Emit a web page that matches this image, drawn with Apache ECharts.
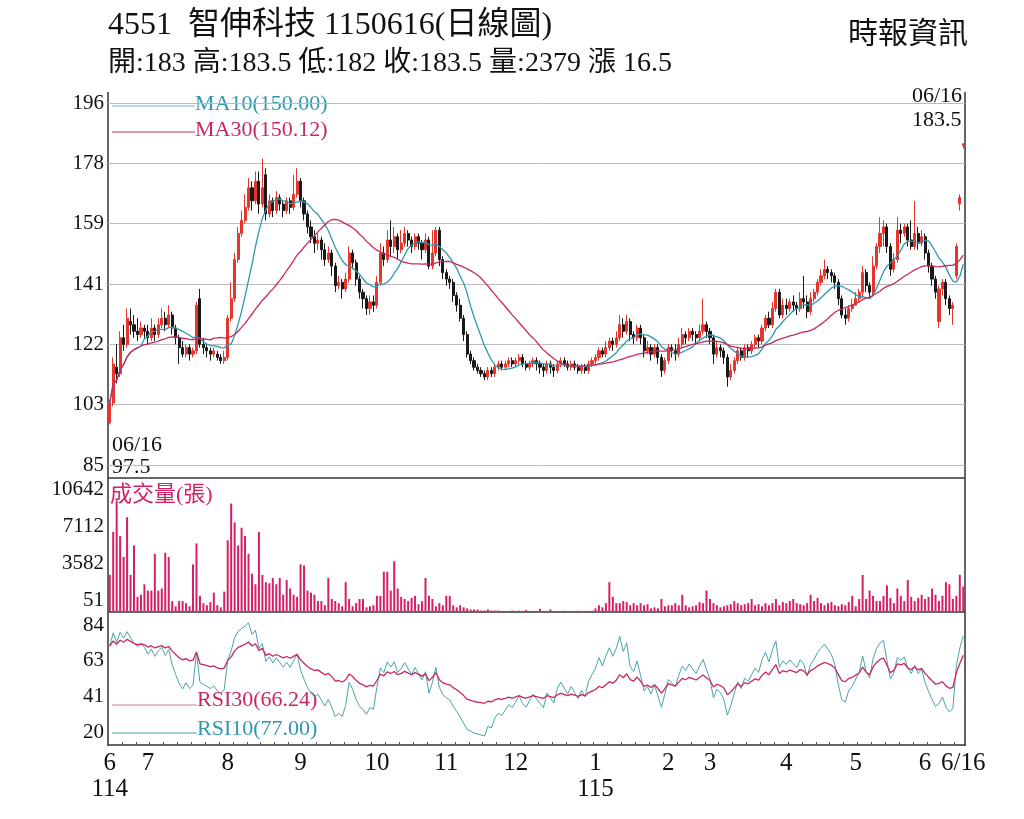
<!DOCTYPE html>
<html>
<head>
<meta charset="utf-8">
<script src="https://cdn.jsdelivr.net/npm/echarts@6/dist/echarts.min.js"></script>
<style>
  html, body { margin: 0; padding: 0; background: #fff; }
  #chart { width: 1024px; height: 819px; }
</style>
</head>
<body>
<div id="chart"></div>
<script>
// 月份與各月交易日數
const monthLabels = ['6\n114', '7', '8', '9', '10', '11', '12', '1\n115', '2', '3', '4', '5', '6'];
const monthDays = [11, 23, 21, 22, 20, 20, 23, 21, 12, 22, 20, 20, 12];
const lastLabel = '6/16';
const priceTicks = ['85', '103', '122', '141', '159', '178', '196'];
const volTicks = ['51', '3582', '7112', '10642'];
const rsiTicks = ['20', '41', '63', '84'];

// [開, 收, 低, 高]
const ohlc = [
  [98,104,97.5,105],[104,116,103,118],[115,113,110,122],[113,124,112,126],[124,122,120,128],[122,130,121,133],[129,128,125,133],[128,126,124,131],[126,125,123,130],[125,127,124,129],[127,126,124,128],
  [126,124,122,128],[124,127,123,130],[127,125,123,128],[125,128,124,130],[128,130,127,133],[130,128,126,132],[128,131,127,134],[131,127,125,132],[127,124,122,128],[124,121,116,125],[121,119,118,123],[119,121,118,122],[121,119,117,122],[119,120,118,121],[120,134,119,135],[136,122,121,139],[122,121,119,124],[121,120,118,122],[120,119,117,121],[119,120,118,121],[119,118,117,120],[118,117,116,119],[117,118,116,120],
  [118,130,117,131],[130,136,129,141],[136,148,135,150],[148,156,147,158],[156,160,155,163],[160,164,159,168],[164,170,163,173],[170,166,163,172],[166,172,165,175],[172,165,162,175],[165,170,164,179],[174,162,160,176],[162,166,161,168],[166,163,161,167],[163,167,162,169],[167,165,163,168],[165,163,161,166],[163,166,162,167],[166,164,162,167],[164,168,163,174],[168,172,167,176],
  [172,166,164,173],[166,162,160,167],[162,158,156,163],[158,155,153,160],[155,153,150,157],[153,154,151,156],[154,151,148,155],[151,148,146,153],[148,150,147,152],[150,146,143,151],[146,140,138,147],[140,141,139,143],[141,139,136,142],[139,142,138,144],[142,150,141,152],[150,147,145,151],[147,142,140,148],[142,138,136,143],[138,136,133,139],[136,133,131,137],[133,135,131,137],[135,134,132,137],
  [134,141,133,143],[141,150,140,153],[150,148,146,152],[148,154,147,157],[154,152,149,160],[152,155,150,158],[155,151,148,156],[151,153,150,157],[153,156,152,158],[156,154,152,157],[154,152,150,155],[152,155,151,156],[155,153,151,156],[153,151,148,154],[151,154,150,156],[154,146,145,155],[146,150,145,157],[150,157,149,158],[157,148,146,158],[148,144,142,149],
  [144,142,140,145],[142,141,139,143],[141,137,135,142],[137,134,132,138],[134,130,129,136],[130,125,123,131],[125,119,118,126],[119,117,116,120],[117,115,114,118],[115,114,113,116],[114,113,112,115],[113,112,111,114],[112,114,111,115],[114,113,112,115],[113,115,112,116],[115,116,114,117],[116,115,114,117],[115,116,114,117],[116,117,115,118],[117,116,115,118],
  [116,117,115,118],[117,118,116,119],[118,116,115,119],[116,115,114,117],[115,116,114,117],[116,117,115,118],[117,116,114,118],[116,115,113,117],[115,114,112,116],[114,116,113,117],[116,115,113,117],[115,114,112,116],[114,116,113,117],[116,117,115,118],[117,116,115,118],[116,115,114,117],[115,116,114,117],[116,115,114,117],[115,114,113,116],[114,115,113,116],[115,114,113,116],[114,116,113,117],[116,117,115,118],
  [117,118,116,119],[118,120,117,121],[120,119,118,121],[119,121,118,123],[121,123,120,124],[123,122,120,124],[122,124,121,126],[124,128,123,131],[128,126,124,130],[126,129,125,131],[129,125,123,130],[125,124,122,126],[124,127,123,128],[127,124,122,128],[124,120,118,125],[120,121,119,123],[121,119,117,122],[119,121,118,122],[121,118,116,122],[118,114,112,119],[114,117,113,118],
  [117,121,116,122],[121,120,118,122],[120,119,117,122],[119,122,118,124],[122,125,121,127],[125,124,122,126],[124,126,123,127],[126,125,123,127],[125,124,122,126],[124,126,123,128],[126,128,125,136],[128,126,124,129],
  [126,124,122,127],[124,119,116,125],[119,121,118,123],[121,120,118,122],[120,118,116,121],[118,112,109,119],[112,114,111,116],[114,117,113,118],[117,120,116,121],[120,118,117,121],[118,121,117,122],[121,120,118,122],[120,122,119,123],[122,124,121,125],[124,123,121,125],[123,127,122,128],[127,130,126,131],[130,128,127,132],[128,133,127,135],[133,138,132,139],[138,131,130,139],[131,134,130,136],
  [134,133,131,136],[133,135,132,136],[135,134,132,137],[134,133,131,135],[133,136,132,138],[136,135,133,143],[135,132,130,137],[132,136,131,138],[136,138,135,139],[138,141,137,142],[141,143,140,145],[143,145,142,148],[145,144,142,146],[144,143,141,145],[143,141,139,144],[141,136,134,142],[136,131,130,137],[131,130,128,133],[130,133,129,134],[133,134,132,136],
  [134,136,134,138],[136,138,135,139],[138,144,136,146],[144,140,138,145],[140,138,136,141],[138,146,137,149],[146,152,145,153],[152,156,150,161],[156,158,152,160],[158,152,150,159],[152,145,143,153],[145,148,144,150],[148,157,147,161],[157,156,153,159],[156,158,155,159],[158,154,152,159],[154,152,151,160],[152,156,151,166],[156,153,151,158],[153,155,152,157],
  [155,150,148,156],[150,146,144,151],[146,142,140,147],[142,138,136,143],[129,139,127,140],[139,141,137,142],[141,136,134,142],[136,133,131,137],[133,134,128,135],[143,152,142,153],[165,167,163,168],[183,183.5,182,183.5]
];

// 成交量(張)
const volume = [
  3500,7600,10600,7200,5200,9000,3500,6300,1400,1600,2600,
  2000,2000,5500,2000,2200,5600,5200,1000,500,1000,1000,800,500,4500,6500,1500,800,600,900,1800,600,400,1900,
  6800,10300,8500,6300,8000,7200,5500,3600,2600,7600,3500,2800,2700,3200,2600,3200,1600,3000,2200,1600,1400,
  4500,4400,2000,1800,1600,1000,1000,600,3200,1200,1000,800,500,2800,1200,500,800,1200,1200,400,500,600,
  1500,1500,3800,3800,2000,4800,2200,1400,1200,1000,1300,1500,700,1000,3200,1500,1200,500,800,600,
  1500,1500,600,400,600,400,300,200,200,200,100,100,200,100,100,100,60,60,60,100,
  60,80,60,150,60,60,80,250,60,60,200,60,60,60,80,60,60,60,80,60,60,60,80,
  300,600,400,800,2800,1400,800,800,1000,900,600,800,600,800,600,700,300,400,300,1200,500,
  600,600,800,600,1600,600,400,500,600,900,800,2000,
  1200,800,600,400,500,600,700,1000,800,600,700,800,1200,600,700,500,800,600,800,1200,600,900,
  800,1000,1200,800,700,600,800,1600,1000,1300,800,600,800,900,600,500,700,600,900,1500,
  500,1200,3500,1200,2000,1500,1000,1000,1500,2500,1300,800,2200,1500,1000,3000,1400,1000,1300,1600,
  1200,1400,2200,1600,1000,1500,2800,2600,1200,1500,3500,2379
];

const monthStart = [];
let acc = 0;
monthDays.forEach(n => { monthStart.push(acc); acc += n; });
const total = acc;
const cats = [];
for (let i = 0; i < total; i++) {
  const m = monthStart.indexOf(i);
  cats.push(i === total - 1 ? lastLabel : (m >= 0 ? monthLabels[m] : ''));
}
const closes = ohlc.map(d => d[1]);

function ma(n) {
  return closes.map((c, i) => {
    const s = closes.slice(Math.max(0, i - n + 1), i + 1);
    return +(s.reduce((a, b) => a + b, 0) / s.length).toFixed(2);
  });
}
function rsi(n) {
  let up = 2.5, dn = 1;
  const out = [];
  for (let i = 1; i < closes.length; i++) {
    const d = closes[i] - closes[i - 1];
    up = (up * (n - 1) + (d > 0 ? d : 0)) / n;
    dn = (dn * (n - 1) + (d < 0 ? -d : 0)) / n;
    if (i === 1) out.push(+(100 * 2.5 / 3.5).toFixed(2));
    out.push(+(100 * up / (up + dn)).toFixed(2));
  }
  return out;
}

const L = 108, W = 857;
const serif = '"Liberation Serif", "Noto Sans CJK TC", serif';
const chart = echarts.init(document.getElementById('chart'));
const xBase = {
  type: 'category', data: cats, boundaryGap: true,
  axisLine: { show: false }, axisTick: { show: false }, axisLabel: { show: false }
};
const option = {
  animation: false,
  backgroundColor: '#fff',
  grid: [
    { left: L, width: W, top: 103, height: 362 },
    { left: L, width: W, top: 500, height: 111 },
    { left: L, width: W, top: 625, height: 107 }
  ],
  xAxis: [
    Object.assign({ gridIndex: 0 }, xBase),
    Object.assign({ gridIndex: 1 }, xBase),
    Object.assign({}, xBase, {
      gridIndex: 2, offset: 13,
      axisTick: { show: true, interval: 3, length: 3, inside: true, lineStyle: { color: '#555' } },
      axisLabel: {
        show: true, interval: (i, v) => v !== '', margin: 5,
        fontFamily: serif, fontSize: 25, color: '#111', lineHeight: 26, verticalAlign: 'top'
      }
    })
  ],
  yAxis: [
    {
      gridIndex: 0, min: 85, max: 196, interval: 18.5,
      axisLine: { show: false }, axisTick: { show: false },
      splitLine: { lineStyle: { color: '#bbb' } },
      axisLabel: { margin: 4, fontFamily: serif, fontSize: 21, color: '#111', formatter: (v, i) => priceTicks[i] }
    },
    {
      gridIndex: 1, min: 51, max: 10642, interval: 3530.33,
      axisLine: { show: false }, axisTick: { show: false }, splitLine: { show: false },
      axisLabel: { margin: 4, fontFamily: serif, fontSize: 21, color: '#111', verticalAlign: 'bottom', formatter: (v, i) => volTicks[i] }
    },
    {
      gridIndex: 2, min: 20, max: 84, interval: 21.333,
      axisLine: { show: false }, axisTick: { show: false }, splitLine: { show: false },
      axisLabel: { margin: 4, fontFamily: serif, fontSize: 21, color: '#111', formatter: (v, i) => rsiTicks[i] }
    }
  ],
  series: [
    {
      type: 'candlestick', xAxisIndex: 0, yAxisIndex: 0, data: ohlc, barWidth: 2.6,
      itemStyle: { color: '#e8352b', color0: '#1a1a1a', borderColor: '#e8352b', borderColor0: '#1a1a1a', borderWidth: 1 }
    },
    { type: 'line', xAxisIndex: 0, yAxisIndex: 0, data: ma(10), symbol: 'none', lineStyle: { color: '#2f98b0', width: 1.3 } },
    { type: 'line', xAxisIndex: 0, yAxisIndex: 0, data: ma(30), symbol: 'none', lineStyle: { color: '#c8285f', width: 1.3 } },
    { type: 'bar', xAxisIndex: 1, yAxisIndex: 1, data: volume, barWidth: 2, itemStyle: { color: '#d61f66' } },
    { type: 'line', xAxisIndex: 2, yAxisIndex: 2, data: rsi(10), clip: false, symbol: 'none', lineStyle: { color: '#4aa3ab', width: 1 } },
    { type: 'line', xAxisIndex: 2, yAxisIndex: 2, data: rsi(30), clip: false, symbol: 'none', lineStyle: { color: '#c8285f', width: 1.3 } }
  ],
  graphic: [
    { type: 'text', left: 108, top: 10, style: { text: '4551  智伸科技 1150616(日線圖)', font: '32px ' + serif, fill: '#111' } },
    { type: 'text', left: 108, top: 50, style: { text: '開:183 高:183.5 低:182 收:183.5 量:2379 漲 16.5', font: '28px ' + serif, fill: '#111' } },
    { type: 'text', right: 56, top: 20, style: { text: '時報資訊', font: '30px ' + serif, fill: '#111' } },
    { type: 'line', shape: { x1: L, y1: 92, x2: L, y2: 746 }, style: { stroke: '#333', lineWidth: 1.5 } },
    { type: 'line', shape: { x1: L + W, y1: 92, x2: L + W, y2: 746 }, style: { stroke: '#333', lineWidth: 1.5 } },
    { type: 'line', shape: { x1: L, y1: 478, x2: L + W, y2: 478 }, style: { stroke: '#333', lineWidth: 1.5 } },
    { type: 'line', shape: { x1: L, y1: 612, x2: L + W, y2: 612 }, style: { stroke: '#333', lineWidth: 1.5 } },
    { type: 'line', shape: { x1: L, y1: 745, x2: L + W, y2: 745 }, style: { stroke: '#333', lineWidth: 1.5 } },
    { type: 'line', shape: { x1: 112, y1: 106, x2: 195, y2: 106 }, style: { stroke: '#6fb8c8', lineWidth: 1 } },
    { type: 'text', left: 195, top: 93, style: { text: 'MA10(150.00)', font: '22px ' + serif, fill: '#2f98b0' } },
    { type: 'line', shape: { x1: 112, y1: 132, x2: 195, y2: 132 }, style: { stroke: '#c8285f', lineWidth: 1 } },
    { type: 'text', left: 195, top: 119, style: { text: 'MA30(150.12)', font: '22px ' + serif, fill: '#c8285f' } },
    { type: 'text', left: 112, top: 434, style: { text: '06/16\n97.5', font: '22px ' + serif, fill: '#111', lineHeight: 22 } },
    { type: 'text', right: 62, top: 84, style: { text: '06/16\n183.5', font: '22px ' + serif, fill: '#111', lineHeight: 24, align: 'right' } },
    { type: 'text', left: 110, top: 484, style: { text: '成交量(張)', font: '22px ' + serif, fill: '#d61f66' } },
    { type: 'line', shape: { x1: 112, y1: 705, x2: 197, y2: 705 }, style: { stroke: '#d77a98', lineWidth: 1 } },
    { type: 'text', left: 197, top: 689, style: { text: 'RSI30(66.24)', font: '22px ' + serif, fill: '#c8285f' } },
    { type: 'line', shape: { x1: 112, y1: 733, x2: 197, y2: 733 }, style: { stroke: '#4aa3ab', lineWidth: 1 } },
    { type: 'text', left: 197, top: 718, style: { text: 'RSI10(77.00)', font: '22px ' + serif, fill: '#2f98b0' } }
  ]
};
chart.setOption(option);
</script>
</body>
</html>
